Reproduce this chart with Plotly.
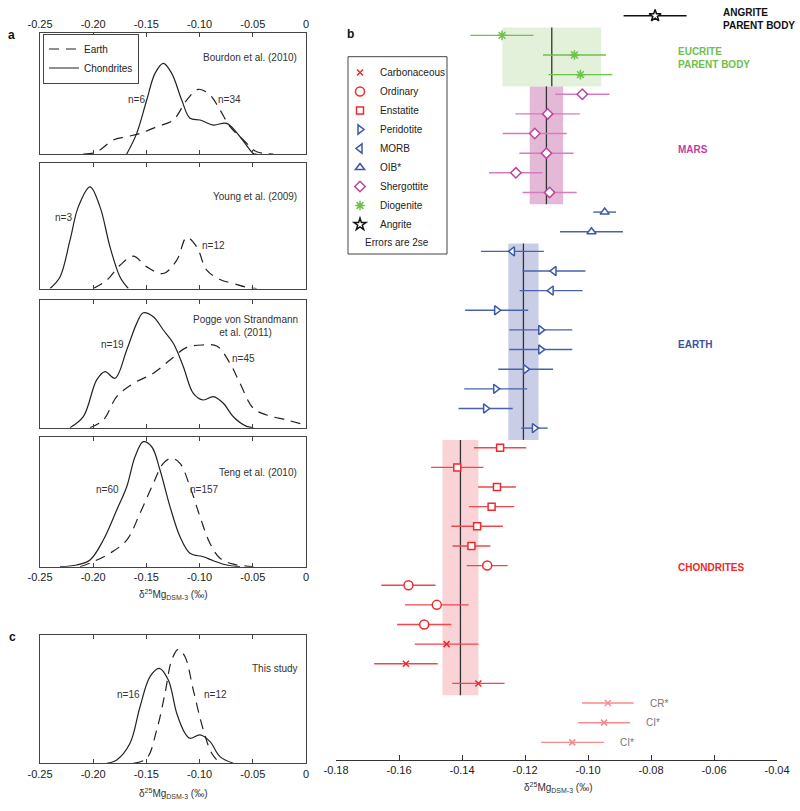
import plotly.graph_objects as go

W, H = 800, 811
def px(x): return x / W
def py(y): return 1 - y / H

FONT = "Arial, Liberation Sans, sans-serif"

# ---------------- Panel a / c : kernel density curves -------------
bourdon_earth_x = [-0.2093, -0.1999, -0.1936, -0.1811, -0.1685, -0.1560, -0.1403, -0.1247, -0.1121, -0.1012, -0.0902, -0.0808, -0.0714, -0.0589, -0.0463, -0.0307]
bourdon_earth_y = [0.0, 0.008, 0.033, 0.116, 0.143, 0.171, 0.226, 0.282, 0.447, 0.536, 0.489, 0.365, 0.226, 0.116, 0.019, 0.0]
bourdon_chond_x = [-0.1685, -0.1591, -0.1497, -0.1419, -0.1341, -0.1262, -0.1168, -0.1090, -0.0996, -0.0871, -0.0745, -0.0620, -0.0495, -0.0464]
bourdon_chond_y = [0.0, 0.171, 0.447, 0.668, 0.751, 0.668, 0.447, 0.296, 0.282, 0.240, 0.254, 0.143, 0.005, 0.0]

young_earth_x = [-0.1999, -0.1873, -0.1748, -0.1623, -0.1497, -0.1341, -0.1215, -0.1121, -0.1027, -0.0933, -0.0808, -0.0683, -0.0558, -0.0464]
young_earth_y = [0.0, 0.066, 0.185, 0.257, 0.172, 0.119, 0.225, 0.406, 0.331, 0.146, 0.072, 0.040, 0.010, 0.0]
young_chond_x = [-0.2406, -0.2312, -0.2218, -0.2140, -0.2030, -0.1936, -0.1842, -0.1748, -0.1670]
young_chond_y = [0.0, 0.092, 0.384, 0.649, 0.808, 0.649, 0.331, 0.092, 0.0]

pogge_earth_x = [-0.2030, -0.1905, -0.1779, -0.1623, -0.1435, -0.1278, -0.1121, -0.0965, -0.0839, -0.0714, -0.0620, -0.0495, -0.0369, -0.0181, 0.0]
pogge_earth_y = [0.0, 0.060, 0.243, 0.347, 0.426, 0.530, 0.629, 0.648, 0.640, 0.504, 0.347, 0.152, 0.099, 0.060, 0.021]
pogge_chond_x = [-0.2218, -0.2093, -0.1967, -0.1889, -0.1795, -0.1685, -0.1591, -0.1529, -0.1435, -0.1341, -0.1247, -0.1153, -0.1059, -0.0965, -0.0871, -0.0777, -0.0683, -0.0558, -0.0495]
pogge_chond_y = [0.0, 0.086, 0.374, 0.439, 0.387, 0.609, 0.817, 0.900, 0.869, 0.765, 0.661, 0.478, 0.269, 0.217, 0.243, 0.191, 0.086, 0.010, 0.0]

teng_earth_x = [-0.2124, -0.1999, -0.1842, -0.1685, -0.1560, -0.1435, -0.1341, -0.1262, -0.1184, -0.1090, -0.0996, -0.0902, -0.0808, -0.0683, -0.0495]
teng_earth_y = [0.0, 0.039, 0.104, 0.206, 0.413, 0.644, 0.799, 0.838, 0.799, 0.618, 0.386, 0.180, 0.065, 0.020, 0.0]
teng_chond_x = [-0.2312, -0.2155, -0.2030, -0.1905, -0.1779, -0.1685, -0.1607, -0.1529, -0.1450, -0.1372, -0.1278, -0.1184, -0.1090, -0.0965, -0.0871, -0.0745, -0.0620]
teng_chond_y = [0.0, 0.013, 0.052, 0.206, 0.438, 0.618, 0.850, 0.966, 0.927, 0.747, 0.464, 0.232, 0.104, 0.077, 0.046, 0.013, 0.0]

this_earth_x = [-0.1623, -0.1497, -0.1403, -0.1325, -0.1262, -0.1200, -0.1137, -0.1059, -0.0965, -0.0886, -0.0808]
this_earth_y = [0.0, 0.039, 0.260, 0.546, 0.805, 0.888, 0.831, 0.571, 0.260, 0.078, 0.0]
this_chond_x = [-0.1873, -0.1779, -0.1654, -0.1560, -0.1466, -0.1379, -0.1294, -0.1215, -0.1137, -0.1090, -0.0996, -0.0902, -0.0808, -0.0683]
this_chond_y = [0.0, 0.026, 0.156, 0.441, 0.675, 0.740, 0.649, 0.390, 0.234, 0.195, 0.221, 0.169, 0.052, 0.0]

panel_sources = ["Bourdon et al. (2010)", "Young et al. (2009)", "Pogge von Strandmann<br>et al. (2011)", "Teng et al. (2010)", "This study"]
panel_n_chond = ["n=6", "n=3", "n=19", "n=60", "n=16"]
panel_n_earth = ["n=34", "n=12", "n=45", "n=157", "n=12"]

left_ticks = [-0.25, -0.20, -0.15, -0.10, -0.05, 0.0]
left_ticklabels = ["-0.25", "-0.20", "-0.15", "-0.10", "-0.05", "0"]

# ---------------- Panel b : δ25Mg values with 2se ----------------
angrite_val = [-0.0787]
angrite_err = [0.0100]
diogenite_val = [-0.1273, -0.1043, -0.1024]
diogenite_err = [0.0100, 0.0100, 0.0101]
shergottite_val = [-0.1018, -0.1128, -0.1169, -0.1132, -0.1229, -0.1122]
shergottite_err = [0.0086, 0.0102, 0.0102, 0.0086, 0.0085, 0.0086]
oib_val = [-0.0947, -0.0989]
oib_err = [0.0036, 0.0100]
morb_val = [-0.1240, -0.1108, -0.1117]
morb_err = [0.0100, 0.0100, 0.0100]
peridotite_val = [-0.1290, -0.1150, -0.1150, -0.1198, -0.1293, -0.1325, -0.1170]
peridotite_err = [0.0100, 0.0100, 0.0100, 0.0087, 0.0100, 0.0086, 0.0042]
enstatite_val = [-0.1279, -0.1415, -0.1289, -0.1306, -0.1352, -0.1370]
enstatite_err = [0.0083, 0.0083, 0.0060, 0.0072, 0.0082, 0.0060]
ordinary_val = [-0.1320, -0.1570, -0.1480, -0.1520]
ordinary_err = [0.0065, 0.0086, 0.0101, 0.0086]
carbonaceous_val = [-0.1449, -0.1578, -0.1348]
carbonaceous_err = [0.0101, 0.0101, 0.0083]
literature_val = [-0.0937, -0.0949, -0.1050]
literature_err = [0.0082, 0.0082, 0.0100]
literature_labels = ["CR*", "CI*", "CI*"]

body_names = ["EUCRITE<br>PARENT BODY", "MARS", "EARTH", "CHONDRITES"]
body_mean = [-0.1115, -0.1132, -0.1205, -0.1405]
body_err = [0.0157, 0.0053, 0.0048, 0.0057]

right_ticks = [-0.18, -0.16, -0.14, -0.12, -0.10, -0.08, -0.06, -0.04]
right_ticklabels = ["-0.18", "-0.16", "-0.14", "-0.12", "-0.10", "-0.08", "-0.06", "-0.04"]

# ---------------- build figure --------------------------------------------------------
fig = go.Figure()
CURVE = "#222222"
DASH = "10px,7px"

left_panels = [
    (bourdon_earth_x, bourdon_earth_y, bourdon_chond_x, bourdon_chond_y, 33.3, 154.0),
    (young_earth_x, young_earth_y, young_chond_x, young_chond_y, 162.7, 288.5),
    (pogge_earth_x, pogge_earth_y, pogge_chond_x, pogge_chond_y, 300.0, 427.7),
    (teng_earth_x, teng_earth_y, teng_chond_x, teng_chond_y, 437.3, 566.7),
    (this_earth_x, this_earth_y, this_chond_x, this_chond_y, 635.0, 763.3),
]

layout_axes = {}
for i, (ex, ey, cx, cy, top, bot) in enumerate(left_panels, start=1):
    xa = "x" if i == 1 else f"x{i}"
    ya = "y" if i == 1 else f"y{i}"
    fig.add_trace(go.Scatter(x=ex, y=ey, xaxis=xa, yaxis=ya, mode="lines", name="Earth",
                             line=dict(color=CURVE, width=1.2, dash=DASH, shape="spline", smoothing=1.0),
                             showlegend=(i == 1), legend="legend", hoverinfo="skip"))
    fig.add_trace(go.Scatter(x=cx, y=cy, xaxis=xa, yaxis=ya, mode="lines", name="Chondrites",
                             line=dict(color=CURVE, width=1.2, shape="spline", smoothing=1.0),
                             showlegend=(i == 1), legend="legend", hoverinfo="skip"))
    show_labels = i in (1, 4, 5)
    layout_axes["xaxis" if i == 1 else f"xaxis{i}"] = dict(
        domain=[px(40), px(306)], anchor=ya, range=[-0.25, 0.0],
        tickvals=left_ticks, ticktext=left_ticklabels, ticks="inside", ticklen=4,
        tickcolor="#444", showline=True, linecolor="#444", linewidth=1, mirror="allticks",
        showgrid=False, zeroline=False, showticklabels=show_labels, automargin=False,
        side="top" if i == 1 else "bottom",
        tickfont=dict(family=FONT, size=11, color="#222"),
    )
    layout_axes["yaxis" if i == 1 else f"yaxis{i}"] = dict(
        domain=[py(bot), py(top)], anchor=xa, range=[0, 1], automargin=False,
        showline=True, linecolor="#444", linewidth=1, mirror=True, ticks="",
        showticklabels=False, showgrid=False, zeroline=False,
    )

# right panel traces
RED = "#EE2A31"
RED_BAR = "#F0464D"
LIT = "#F58C8E"
BLUE = "#3D58A8"
BLUE_BAR = "#4862AE"
MAG = "#B9459D"
MAG_BAR = "#D57BBE"
GREEN = "#6DC04B"

groups = [  # order from top to bottom in the plot
    ("Angrite", angrite_val, angrite_err),
    ("Diogenite", diogenite_val, diogenite_err),
    ("Shergottite", shergottite_val, shergottite_err),
    ("OIB*", oib_val, oib_err),
    ("MORB", morb_val, morb_err),
    ("Peridotite", peridotite_val, peridotite_err),
    ("Enstatite", enstatite_val, enstatite_err),
    ("Ordinary", ordinary_val, ordinary_err),
    ("Carbonaceous", carbonaceous_val, carbonaceous_err),
    ("lit", literature_val, literature_err),
]
rows = {}
r = 0
for name, vals, errs in groups:
    rows[name] = list(range(r, r + len(vals)))
    r += len(vals)

styles = {
    "Carbonaceous": dict(symbol="x-thin", size=6, color=RED, line=RED, bar=RED_BAR),
    "Ordinary": dict(symbol="circle", size=9, color="white", line=RED, bar=RED_BAR),
    "Enstatite": dict(symbol="square", size=7, color="white", line=RED, bar=RED_BAR),
    "Peridotite": dict(symbol="triangle-right", size=8, color="white", line=BLUE, bar=BLUE_BAR),
    "MORB": dict(symbol="triangle-left", size=8, color="white", line=BLUE, bar=BLUE_BAR),
    "OIB*": dict(symbol="triangle-up", size=8, color="white", line=BLUE, bar=BLUE_BAR),
    "Shergottite": dict(symbol="diamond", size=8, color="white", line=MAG, bar=MAG_BAR),
    "Diogenite": dict(symbol="asterisk-open", size=8, color=GREEN, line=GREEN, bar=GREEN),
    "Angrite": dict(symbol="star", size=9, color="white", line="#111", bar="#111"),
}
gdict = {g[0]: g for g in groups}
for name in ["Carbonaceous", "Ordinary", "Enstatite", "Peridotite", "MORB", "OIB*", "Shergottite", "Diogenite", "Angrite"]:
    _, vals, errs = gdict[name]
    s = styles[name]
    fig.add_trace(go.Scatter(
        x=vals, y=rows[name], xaxis="x6", yaxis="y6", mode="markers", name=name,
        legend="legend2",
        marker=dict(symbol=s["symbol"], size=s["size"], color=s["color"],
                    line=dict(color=s["line"], width=1.5)),
        error_x=dict(type="data", array=errs, symmetric=True, color=s["bar"], thickness=1.4, width=0),
    ))
fig.add_trace(go.Scatter(
    x=literature_val, y=rows["lit"], xaxis="x6", yaxis="y6", mode="markers", showlegend=False,
    marker=dict(symbol="x-thin", size=6, color=LIT, line=dict(color=LIT, width=1.6)),
    error_x=dict(type="data", array=literature_err, symmetric=True, color=LIT, thickness=1.4, width=0),
))

layout_axes["xaxis6"] = dict(
    domain=[px(336), px(777)], anchor="y6", range=[-0.18, -0.04],
    tickvals=right_ticks, ticktext=right_ticklabels, ticks="inside", ticklen=5,
    tickcolor="#333", showline=True, linecolor="#333", linewidth=1, showgrid=False,
    zeroline=False, automargin=False, tickfont=dict(family=FONT, size=11, color="#222"),
)
layout_axes["yaxis6"] = dict(domain=[py(760), 1.0], anchor="x6", range=[37.9, -0.8],
                             visible=False, automargin=False)

# ---------------- shapes: group mean ± 2se boxes ---------------------------------------
shapes = []
body_rows = [rows["Diogenite"], rows["Shergottite"], rows["MORB"] + rows["Peridotite"],
             rows["Enstatite"] + rows["Ordinary"] + rows["Carbonaceous"]]
body_fill = ["#E3F1DA", "#E4B9D8", "#CACDE6", "#FAD3D6"]
body_color = [GREEN, "#BE3FA0", "#3953A4", "#EE2A2A"]
for m, e, rr, fc in zip(body_mean, body_err, body_rows, body_fill):
    y0, y1 = min(rr) - 0.4, max(rr) + 0.6
    shapes.append(dict(type="rect", xref="x6", yref="y6", x0=m - e, x1=m + e, y0=y0, y1=y1,
                       fillcolor=fc, line=dict(width=0), layer="below"))
    shapes.append(dict(type="line", xref="x6", yref="y6", x0=m, x1=m, y0=y0, y1=y1,
                       line=dict(color="#333", width=1.3), layer="below"))
# legend border for panel b
shapes.append(dict(type="rect", xref="paper", yref="paper", x0=px(348), x1=px(447),
                   y0=py(254), y1=py(56.7), line=dict(color="#444", width=1)))

# ---------------- annotations ---------------------------------------------------------
ann = []
def text(x, y, t, size=10, color="#333", xanchor="center", bold=False, ref=("paper", "paper"), **kw):
    d = dict(x=x, y=y, xref=ref[0], yref=ref[1], text=f"<b>{t}</b>" if bold else t,
             showarrow=False, xanchor=xanchor, yanchor="middle",
             font=dict(family=FONT, size=size, color=color))
    d.update(kw)
    ann.append(d)

src_pos = [(250, 57), (255, 196), (245, 326), (258, 472), (275, 668)]
nch_pos = [(136, 99), (63, 218), (113, 344), (107, 489), (128, 694)]
nea_pos = [(230, 99), (213, 246), (243, 358), (205, 489), (215, 694)]
for t, p in zip(panel_sources, src_pos):
    text(px(p[0]), py(p[1]), t, size=10)
for t, p in zip(panel_n_chond, nch_pos):
    text(px(p[0]), py(p[1]), t, size=10)
for t, p in zip(panel_n_earth, nea_pos):
    text(px(p[0]), py(p[1]), t, size=10)

xlabel = "δ<sup>25</sup>Mg<sub>DSM-3</sub> (‰)"
text(px(173), py(594), xlabel, size=10)
text(px(173), py(793), xlabel, size=10)
text(px(558), py(787), xlabel, size=10)

text(px(11), py(35), "a", size=12, color="#111", bold=True)
text(px(350), py(34), "b", size=12, color="#111", bold=True)
text(px(12), py(637), "c", size=12, color="#111", bold=True)

# body labels
text(px(721), py(19.5), "ANGRITE<br>PARENT BODY", size=10, color="#111", xanchor="left", bold=True, align="left")
body_label_y = [58.5, 149.3, 344.7, 567.3]
for nm, c, yy in zip(body_names, body_color, body_label_y):
    text(px(676), py(yy), nm, size=10, color=c, xanchor="left", bold=True, align="left")

for v, e, rr, t in zip(literature_val, literature_err, rows["lit"], literature_labels):
    text(v + e, rr, t, size=10, color="#777", xanchor="left", ref=("x6", "y6"), xshift=14)

text(px(397), py(242), "Errors are 2se", size=10, color="#222")

fig.update_layout(
    width=W, height=H, margin=dict(l=0, r=0, t=0, b=0, pad=0, autoexpand=False),
    paper_bgcolor="white", plot_bgcolor="white",
    font=dict(family=FONT, size=10, color="#222"),
    shapes=shapes, annotations=ann, hovermode=False,
    legend=dict(x=px(43), y=py(33.5), xanchor="left", yanchor="top", bgcolor="white",
                bordercolor="#444", borderwidth=1, font=dict(family=FONT, size=10, color="#222"),
                tracegroupgap=0),
    legend2=dict(x=px(340), y=py(58), xanchor="left", yanchor="top", bgcolor="rgba(0,0,0,0)",
                 borderwidth=0, font=dict(family=FONT, size=10, color="#222"), tracegroupgap=0),
    **layout_axes,
)

fig.write_html("out.html", config={"displayModeBar": False, "staticPlot": True},
               post_script="document.body.style.margin='0px';")
